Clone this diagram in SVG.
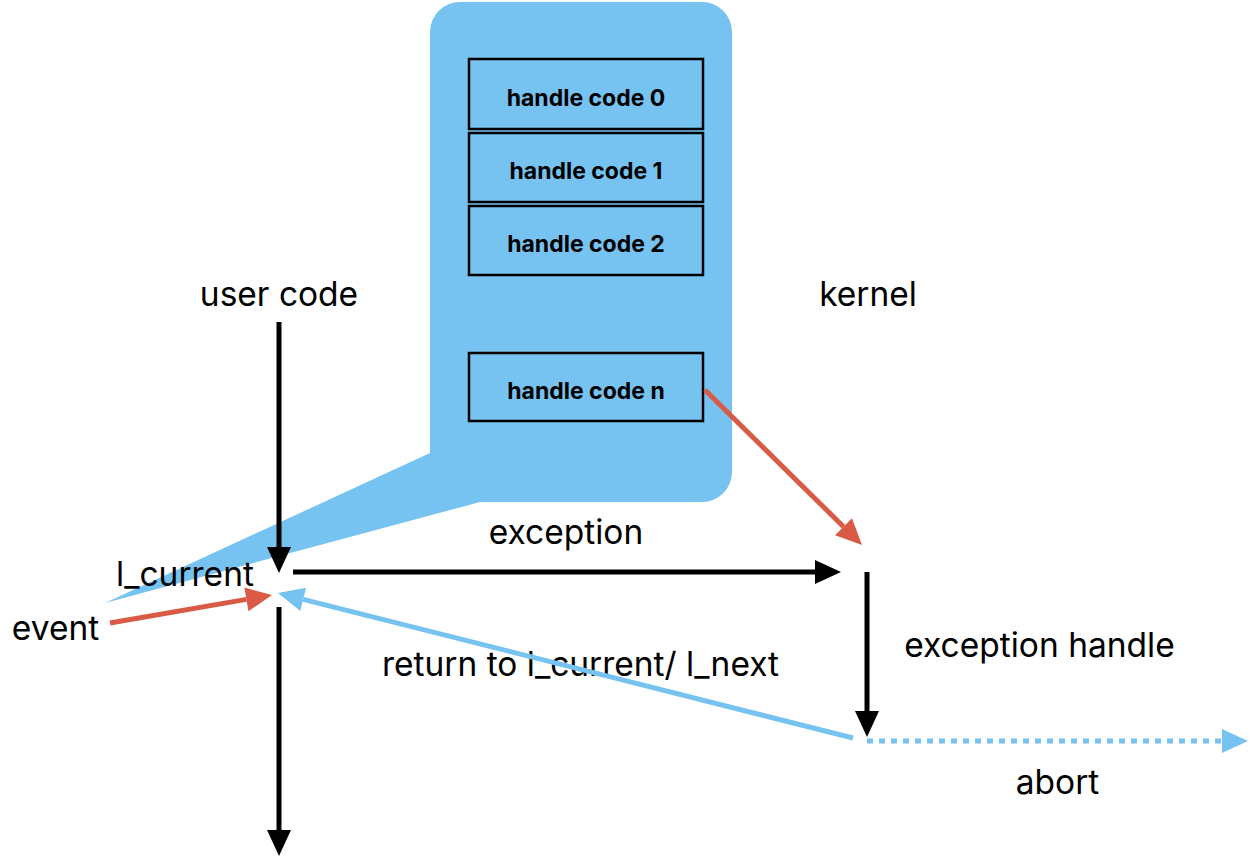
<svg xmlns="http://www.w3.org/2000/svg" width="1250" height="860" viewBox="0 0 1250 860">
<style>
.lbl{font-family:Inter,"Liberation Sans",sans-serif;font-size:33.5px;fill:#000;text-anchor:middle}
.box{fill:#76C2F1;stroke:#000;stroke-width:2.5}
.bt{font-family:Inter,"Liberation Sans",sans-serif;font-size:23px;font-weight:700;fill:#000;text-anchor:middle}
.k{stroke:#000;stroke-width:5;fill:none}
.b{stroke:#76C2F1;stroke-width:5;fill:none}
.r{stroke:#D95B45;stroke-width:5;fill:none}
</style>
<defs>
<marker id="ak" markerUnits="userSpaceOnUse" markerWidth="26" markerHeight="24" refX="0" refY="12" orient="auto" overflow="visible"><path d="M0,0 L26,12 L0,24 Z" fill="#000"/></marker>
<marker id="ab" markerUnits="userSpaceOnUse" markerWidth="26" markerHeight="24" refX="0" refY="12" orient="auto" overflow="visible"><path d="M0,0 L26,12 L0,24 Z" fill="#76C2F1"/></marker>
<marker id="ar" markerUnits="userSpaceOnUse" markerWidth="26" markerHeight="24" refX="0" refY="12" orient="auto" overflow="visible"><path d="M0,0 L26,12 L0,24 Z" fill="#D95B45"/></marker>
</defs>
<g id="callout">
<path d="M460,2 H702 A30,30 0 0 1 732,32 V472 A30,30 0 0 1 702,502 H480 L105,603 L430,453 V32 A30,30 0 0 1 460,2 Z" fill="#76C2F1"/>
</g>
<g id="hc0"><rect class="box" x="469" y="59" width="234" height="70"/><text class="bt" x="586" y="106">handle code 0</text></g>
<g id="hc1"><rect class="box" x="469" y="133" width="234" height="69"/><text class="bt" x="586" y="179">handle code 1</text></g>
<g id="hc2"><rect class="box" x="469" y="206" width="234" height="69"/><text class="bt" x="586" y="252">handle code 2</text></g>
<g id="hcn"><rect class="box" x="469" y="353" width="234" height="68"/><text class="bt" x="586" y="399">handle code n</text></g>
<g id="labels">
<text class="lbl" x="279" y="306">user code</text>
<text class="lbl" x="868" y="306">kernel</text>
<text class="lbl" x="566" y="544">exception</text>
<text class="lbl" x="185" y="586">l_current</text>
<text class="lbl" x="55.5" y="640">event</text>
<text class="lbl" x="580.5" y="676">return to l_current/ l_next</text>
<text class="lbl" x="1039.5" y="657">exception handle</text>
<text class="lbl" x="1057.5" y="794">abort</text>
</g>
<g id="connectors">
<line class="k" x1="279" y1="322" x2="279" y2="547" marker-end="url(#ak)"/>
<line class="k" x1="279" y1="607" x2="279" y2="830" marker-end="url(#ak)"/>
<line class="k" x1="293" y1="572" x2="815" y2="572" marker-end="url(#ak)"/>
<line class="k" x1="867" y1="572" x2="867" y2="711" marker-end="url(#ak)"/>
<line class="b" x1="867" y1="741" x2="1222" y2="741" stroke-dasharray="6 6" marker-end="url(#ab)"/>
<line class="b" x1="853" y1="738" x2="303.2" y2="599.4" marker-end="url(#ab)"/>
<line class="r" x1="110" y1="623" x2="246.4" y2="599.4" marker-end="url(#ar)"/>
<line class="r" x1="705" y1="390" x2="843.5" y2="526.7" marker-end="url(#ar)"/>
</g>
</svg>
